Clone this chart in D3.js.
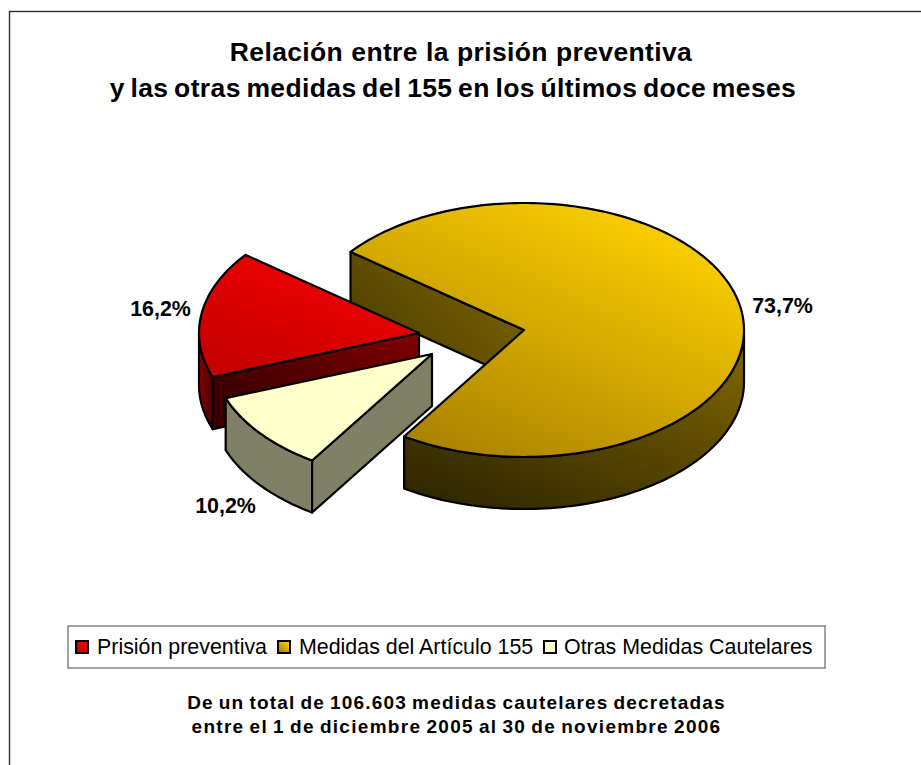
<!DOCTYPE html>
<html><head><meta charset="utf-8">
<script src="https://cdn.jsdelivr.net/npm/d3@7/dist/d3.min.js"></script>
<style>html,body{margin:0;padding:0;background:#fff}svg{display:block}text{font-family:"Liberation Sans",Arial,sans-serif;fill:#000}</style>
</head><body><svg id="c" width="921" height="765"></svg>
<script>
const categories = ["Prisión preventiva","Medidas del Artículo 155","Otras Medidas Cautelares"];
const values = [16.2,73.7,10.2];
const valueLabels = ["16,2%","73,7%","10,2%"];
const titleLines = ["Relación entre la prisión preventiva","y las otras medidas del 155 en los últimos doce meses"];
const footerLines = ["De un total de 106.603 medidas cautelares decretadas","entre el 1 de diciembre 2005 al 30 de noviembre 2006"];

const W=921,H=765, RX=220, RY=127, DEPTH=52;
const centers=[[419,333],[524,330],[432,354]];
const labelPos=[[160.5,316],[782.5,313],[225.5,513]];
const legendSw=[75,277,543], legendTx=[97,299,564];
const svg=d3.select("#c");
const defs=svg.append("defs");
function grad(id,x1,y1,x2,y2,c1,c2){
  const g=defs.append("linearGradient").attr("id",id).attr("x1",x1).attr("y1",y1).attr("x2",x2).attr("y2",y2);
  g.append("stop").attr("offset",0).attr("stop-color",c1);
  g.append("stop").attr("offset",1).attr("stop-color",c2);
  return `url(#${id})`;
}
const topFill=[grad("t0",0.85,0,0.15,1,"#f80000","#c40000"),grad("t1",0.85,0.1,0.2,1,"#fccf00","#a88000"),"#ffffcc"];
const wallFill=[grad("w0",1,0,0,0.6,"#800000","#3a0000"),grad("w1",0.9,0,0.1,1,"#806600","#2e2500"),"#808066"];
const rimFill=[grad("r0",0,0,1,0,"#8a0000","#4a0000"),wallFill[1],"#808066"];
const backFill=grad("b1",0,1,1,0.3,"#453800","#7a6200");

svg.append("rect").attr("x",9.5).attr("y",11.5).attr("width",W).attr("height",H).attr("fill","#fff").attr("stroke","#303030").attr("stroke-width",1.4);

const title=svg.append("g").attr("font-size",26.5).attr("font-weight","bold").attr("text-anchor","middle");
titleLines.forEach((t,i)=>title.append("text").attr("x",[461,453][i]).attr("y",[61,97][i]).attr("letter-spacing",[0.35,0.37][i]).attr("word-spacing",[0.5,-2.1][i]).text(t));

const pie=d3.pie().sort(null).value(d=>d).startAngle(-110.3*Math.PI/180).endAngle(-110.3*Math.PI/180+2*Math.PI);
const arcs=pie(values);
const ux=d3.scaleLinear().domain([-1,1]).range([-RX,RX]);
const uy=d3.scaleLinear().domain([-1,1]).range([-RY,RY]);
const pt=(c,a,dz=0)=>[c[0]+ux(Math.sin(a)),c[1]+uy(-Math.cos(a))+dz];
const line=d3.line();
const samples=(c,a0,a1,dz=0)=>{const n=Math.max(2,Math.ceil(Math.abs(a1-a0)*40));return d3.range(n+1).map(i=>pt(c,a0+(a1-a0)*i/n,dz));};
const draw=(g,pts,fill)=>g.append("path").attr("d",line(pts)+"Z").attr("fill",fill).attr("stroke","#000").attr("stroke-width",2.2).attr("stroke-linejoin","round");

const order=[1,0,2];
order.forEach(i=>{
  const c=centers[i],a=arcs[i],g=svg.append("g");
  const s=a.startAngle,e=a.endAngle;
  if(i===1){ const p=pt(c,s); draw(g,[p,c,[c[0],c[1]+DEPTH],[p[0],p[1]+DEPTH]],backFill); }
  const TAU=2*Math.PI;
  for(const k of [-1,0,1]){
    const lo=Math.max(s,Math.PI/2+k*TAU), hi=Math.min(e,3*Math.PI/2+k*TAU);
    if(hi>lo){ draw(g,[...samples(c,lo,hi),...samples(c,hi,lo,DEPTH)],rimFill[i]); }
  }
  if(i===0||i===2){ const p=pt(c,s); draw(g,[p,c,[c[0],c[1]+DEPTH],[p[0],p[1]+DEPTH]],wallFill[i]); }
  draw(g,[c,...samples(c,s,e)],topFill[i]);
});

const lab=svg.append("g").attr("font-size",21.4).attr("font-weight","bold").attr("text-anchor","middle");
valueLabels.forEach((t,i)=>lab.append("text").attr("x",labelPos[i][0]).attr("y",labelPos[i][1]).text(t));

svg.append("rect").attr("x",68).attr("y",626).attr("width",757).attr("height",42).attr("fill","#fff").attr("stroke","#707070").attr("stroke-width",1.3);
categories.forEach((t,i)=>{
  svg.append("rect").attr("x",legendSw[i]+1).attr("y",641).attr("width",12).attr("height",12).attr("fill",topFill[i]).attr("stroke","#000").attr("stroke-width",2);
  svg.append("text").attr("x",legendTx[i]).attr("y",654).attr("font-size",21.4).text(t);
});

const foot=svg.append("g").attr("font-size",19).attr("font-weight","bold").attr("text-anchor","middle").attr("word-spacing",-1.5);
footerLines.forEach((t,i)=>foot.append("text").attr("x",456.5).attr("y",[709,733][i]).attr("letter-spacing",[1.2,1.3][i]).text(t));
</script></body></html>
